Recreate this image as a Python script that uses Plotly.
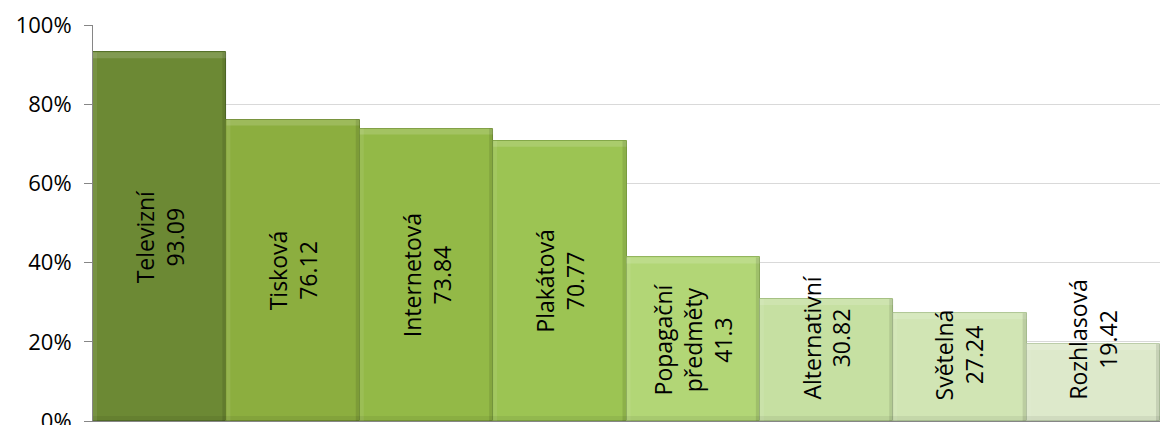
import plotly.graph_objects as go

# Share of respondents per advertising type (%)
categories = ["Televizní", "Tisková", "Internetová", "Plakátová",
              "Popagační<br>předměty", "Alternativní", "Světelná", "Rozhlasová"]
values = [93.09, 76.12, 73.84, 70.77, 41.3, 30.82, 27.24, 19.42]
value_labels = ["93.09", "76.12", "73.84", "70.77", "41.3", "30.82", "27.24", "19.42"]
bar_colors = ["#6c8934", "#8cae3f", "#93b947", "#9cc453",
              "#b2d676", "#c6e0a2", "#d1e5b4", "#dde9cb"]
edge_colors = ["#55702a", "#6f8c30", "#7a9a3a", "#80a543",
               "#93b55e", "#a6c184", "#b1c898", "#bccdaa"]
y_ticks = [0, 20, 40, 60, 80, 100]
y_tick_labels = ["0%", "20%", "40%", "60%", "80%", "100%"]

FONT = "Open Sans"
x_pos = list(range(len(values)))

fig = go.Figure()
fig.add_trace(go.Bar(
    x=x_pos,
    y=values,
    width=1.0,
    marker=dict(color=bar_colors, line=dict(color=edge_colors, width=1)),
    hoverinfo="skip",
))

shapes = []
for i, v in enumerate(values):
    # bevel: light top strip
    shapes.append(dict(type="rect", xref="x", yref="y",
                       x0=i - 0.5, x1=i + 0.5, ysizemode="pixel", yanchor=v,
                       y0=-6, y1=0, fillcolor="rgba(255,255,255,0.15)",
                       line=dict(width=0), layer="above"))
    # bevel: light left strip
    shapes.append(dict(type="rect", xref="x", yref="y",
                       xsizemode="pixel", xanchor=i - 0.5, x0=0, x1=4,
                       y0=0, y1=v, fillcolor="rgba(255,255,255,0.08)",
                       line=dict(width=0), layer="above"))
    # bevel: dark right strip
    shapes.append(dict(type="rect", xref="x", yref="y",
                       xsizemode="pixel", xanchor=i + 0.5, x0=-4, x1=0,
                       y0=0, y1=v, fillcolor="rgba(0,0,0,0.10)",
                       line=dict(width=0), layer="above"))
    # bevel: dark bottom strip
    shapes.append(dict(type="rect", xref="x", yref="y",
                       x0=i - 0.5, x1=i + 0.5, ysizemode="pixel", yanchor=0,
                       y0=0, y1=5, fillcolor="rgba(0,0,0,0.06)",
                       line=dict(width=0), layer="above"))

annotations = []
for i, (cat, v, lab) in enumerate(zip(categories, values, value_labels)):
    if v / 2 >= 18:
        y, anchor = v / 2, "middle"
    else:
        y, anchor = 4.8, "bottom"
    annotations.append(dict(
        x=i, y=y, xref="x", yref="y",
        text=f"{cat}<br>{lab}",
        textangle=-90, showarrow=False,
        xanchor="center", yanchor=anchor,
        font=dict(family=FONT, size=23, color="#000000"),
    ))

fig.update_layout(
    width=1160, height=425,
    margin=dict(l=93, r=0, t=25, b=4, autoexpand=False),
    paper_bgcolor="white", plot_bgcolor="white",
    bargap=0, showlegend=False,
    shapes=shapes, annotations=annotations,
    xaxis=dict(range=[-0.5, len(values) - 0.5], showticklabels=False,
               showgrid=False, zeroline=False, showline=True,
               linecolor="#868686", linewidth=1, ticks="",
               automargin=False),
    yaxis=dict(range=[0, 100], tickvals=y_ticks, ticktext=y_tick_labels,
               showgrid=True, gridcolor="#d9d9d9", gridwidth=1,
               zeroline=False, showline=True, linecolor="#868686",
               linewidth=1, ticks="outside", ticklen=8, tickcolor="#868686",
               ticklabeloverflow="allow", ticklabelstandoff=8,
               automargin=False,
               tickfont=dict(family=FONT, size=22, color="#000000")),
)

fig.write_html("out.html")
